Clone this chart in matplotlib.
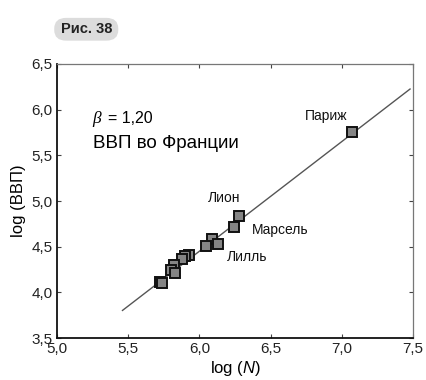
import matplotlib
matplotlib.use("Agg")
import matplotlib.pyplot as plt
from matplotlib.patches import FancyBboxPatch
import numpy as np

plt.rcParams['font.family'] = ['Liberation Sans', 'DejaVu Sans']
plt.rcParams['mathtext.fontset'] = 'custom'
plt.rcParams['mathtext.it'] = 'Liberation Sans:italic'
plt.rcParams['mathtext.rm'] = 'Liberation Sans'

# log(N) and log(GDP) of French urban areas
log_n = [7.07, 6.28, 6.24, 6.09, 6.13, 6.05, 5.93, 5.90, 5.88, 5.82, 5.80, 5.83, 5.72, 5.74]
log_gdp = [5.76, 4.84, 4.71, 4.58, 4.53, 4.51, 4.41, 4.40, 4.36, 4.30, 4.24, 4.21, 4.11, 4.10]

beta = 1.20
intercept = -2.75
fit_x = [5.46, 7.48]

city_names = ["Париж", "Лион", "Марсель", "Лилль"]
city_xy = [(6.74, 5.93), (6.06, 5.03), (6.37, 4.68), (6.19, 4.39)]

x_ticks = [5.0, 5.5, 6.0, 6.5, 7.0, 7.5]
y_ticks = [3.5, 4.0, 4.5, 5.0, 5.5, 6.0, 6.5]

fig = plt.figure(figsize=(4.27, 3.80), dpi=100)
ax = fig.add_axes([0.1335, 0.1105, 0.8335, 0.7211])

fx = np.array(fit_x)
ax.plot(fx, beta * fx + intercept, color='#555555', lw=1.0, zorder=2)
ax.plot(log_n, log_gdp, ls='none', marker='s', ms=7.5, mfc='#858585',
        mec='#111111', mew=1.4, zorder=3)

for name, (tx, ty) in zip(city_names, city_xy):
    ax.text(tx, ty, name, fontsize=10, color='#111111', ha='left', va='center')

ax.text(5.25, 5.90, 'β', fontsize=12.5, ha='left', va='center',
        family=['Liberation Serif'], style='italic')
ax.text(5.358, 5.90, '= 1,20', fontsize=11.5, ha='left', va='center')
ax.text(5.25, 5.635, 'ВВП во Франции', fontsize=13.5, ha='left', va='center')

ax.set_xlim(5.0, 7.5)
ax.set_ylim(3.5, 6.5)
ax.set_xticks(x_ticks)
ax.set_yticks(y_ticks)
ax.set_xticklabels([f"{t:.1f}".replace('.', ',') for t in x_ticks], fontsize=11)
ax.set_yticklabels([f"{t:.1f}".replace('.', ',') for t in y_ticks], fontsize=11)
ax.tick_params(direction='in', length=3, width=0.8, top=True, right=True,
               colors='#444444', labelcolor='#222222', pad=3)

for side in ('left', 'bottom'):
    ax.spines[side].set_linewidth(1.3)
    ax.spines[side].set_color('#111111')
for side in ('top', 'right'):
    ax.spines[side].set_linewidth(0.9)
    ax.spines[side].set_color('#777777')

ax.set_xlabel('log ($\\it{N}$)', fontsize=12, labelpad=2)
ax.set_ylabel('log (ВВП)', fontsize=12, labelpad=4)

# figure badge
badge = FancyBboxPatch((0.127, 0.893), 0.150, 0.060, transform=fig.transFigure,
                       boxstyle='round,pad=0.0,rounding_size=0.028',
                       fc='#dcdcdc', ec='none')
fig.patches.append(badge)
fig.text(0.202, 0.923, 'Рис. 38', fontsize=10.5, fontweight='bold',
         ha='center', va='center', color='#222222')

fig.savefig('out.png', dpi=100)
